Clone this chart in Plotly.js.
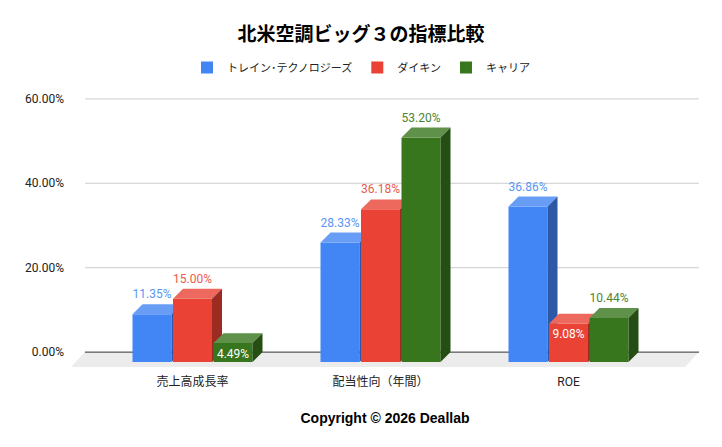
<!DOCTYPE html>
<html>
<head>
<meta charset="utf-8">
<script src="https://cdn.plot.ly/plotly-3.0.1.min.js"></script>
<style>
  html, body { margin: 0; padding: 0; background: #fff; }
  #chart { width: 722px; height: 447px; }
</style>
</head>
<body>
<div id="chart"></div>
<script>
// data
var categories = ["売上高成長率", "配当性向（年間）", "ROE"];
var seriesNames = ["トレイン･テクノロジーズ", "ダイキン", "キャリア"];
var trane = [11.35, 28.33, 36.86];
var daikin = [15.0, 36.18, 9.08];
var carrier = [4.49, 53.2, 10.44];
var yTicks = [0, 20, 40, 60];

var seriesValues = [trane, daikin, carrier];

// colours: front, top, side, label
var colors = [
  { front: "#4285f4", top: "#689df6", side: "#2c58a6", label: "#5b95f5" },
  { front: "#ea4335", top: "#ee695d", side: "#9c2c22", label: "#ee5a4d" },
  { front: "#38761d", top: "#60914a", side: "#244e13", label: "#4a8530" },
];

// geometry (px) of the fake 3d look
var plotL = 71, plotR = 699, plotT = 80, plotB = 368;
var zeroPx = 352, pxPerPct = 4.25;
var catPx = 188, cat0BackPx = 202.5;
var depthX = 10, depthY = 10; // bar depth
var floorDepthX = 14, floorDepthY = 15;
var backLeftPx = 85;
var barPx = 39, slotPx = 40.5;

var yRange = [-(plotB - zeroPx) / pxPerPct, (zeroPx - plotT) / pxPerPct];
var xRange = [(plotL - cat0BackPx) / catPx, (plotR - cat0BackPx) / catPx];
var dxD = depthX / catPx, dyD = depthY / pxPerPct;
var bw = barPx / catPx, slot = slotPx / catPx;

function xp(px) {
  return (px - plotL) / (plotR - plotL);
}

var data = [];
var catIdx = categories.map(function (c, k) { return k; });

seriesValues.forEach(function (vals, i) {
  let ya = i === 0 ? "y" : "y" + (i + 1);
  let off = -dxD + (i - 1) * slot - bw / 2;

  // front faces
  data.push({
    type: "bar",
    x: catIdx,
    y: vals,
    base: -dyD,
    width: bw,
    offset: off,
    name: seriesNames[i],
    marker: { color: colors[i].front, line: { width: 0 } },
    yaxis: ya,
    hoverinfo: "skip",
  });

  // top + side faces
  let tx = [], ty = [], sx = [], sy = [];
  vals.forEach(function (v, k) {
    let xl = k + off, xr = k + off + bw, t = v - dyD;
    tx.push(xl, xr, xr + dxD, xl + dxD, xl, null);
    ty.push(t, t, v, v, t, null);
    sx.push(xr, xr, xr + dxD, xr + dxD, xr, null);
    sy.push(-dyD, t, v, 0, -dyD, null);
  });
  data.push({
    type: "scatter", mode: "none", fill: "toself",
    x: tx, y: ty, fillcolor: colors[i].top,
    showlegend: false, hoverinfo: "skip", yaxis: ya,
  });
  data.push({
    type: "scatter", mode: "none", fill: "toself",
    x: sx, y: sy, fillcolor: colors[i].side,
    showlegend: false, hoverinfo: "skip", yaxis: ya,
  });

  // value labels: inside the bar when the bar to the left is taller
  let lx = [], ly = [], lt = [], lc = [];
  vals.forEach(function (v, k) {
    let inside = i > 0 && seriesValues[i - 1][k] > v;
    lx.push(k + off + bw / 2);
    ly.push(inside ? v - dyD - 11.5 / pxPerPct : v + 9 / pxPerPct);
    lt.push(v.toFixed(2) + "%");
    lc.push(inside ? "#ffffff" : colors[i].label);
  });
  data.push({
    type: "scatter", mode: "text",
    x: lx, y: ly, text: lt,
    textposition: "middle center",
    textfont: { family: "Roboto, Arial, sans-serif", size: 12, color: lc },
    showlegend: false, hoverinfo: "skip", yaxis: ya,
  });
});

// back-plane grid, zero line and floor
var shapes = [
  {
    type: "path", xref: "paper", yref: "y", layer: "below",
    path: "M" + xp(backLeftPx) + ",0 L1,0 L" + xp(plotR - floorDepthX) + "," + (-floorDepthY / pxPerPct) +
      " L0," + (-floorDepthY / pxPerPct) + " Z",
    fillcolor: "#ececec", line: { width: 0 },
  },
];
yTicks.forEach(function (t) {
  shapes.push({
    type: "line", xref: "paper", yref: "y", layer: "below",
    x0: xp(backLeftPx), x1: 1, y0: t, y1: t,
    line: { color: t === 0 ? "#333333" : "#cccccc", width: 1 },
  });
});

var layout = {
  width: 722,
  height: 447,
  margin: { l: plotL, r: 722 - plotR, t: plotT, b: 447 - plotB, pad: 0 },
  paper_bgcolor: "#ffffff",
  plot_bgcolor: "rgba(0,0,0,0)",
  font: { family: "Roboto, 'Noto Sans CJK JP', sans-serif", size: 12, color: "#222222" },
  title: {
    text: "北米空調ビッグ３の指標比較",
    x: 0.5, xanchor: "center",
    y: 1 - 34.5 / 447, yanchor: "middle",
    font: { family: "'Liberation Sans', Arial, 'Noto Sans CJK JP', sans-serif", size: 19, weight: "bold", color: "#000000" },
  },
  showlegend: true,
  legend: {
    orientation: "h",
    xref: "container", yref: "container",
    x: 0.5, xanchor: "center",
    y: 1 - 67.5 / 447, yanchor: "middle",
    font: { family: "Roboto, 'Noto Sans CJK JP', sans-serif", size: 11, color: "#222222" },
    itemclick: false,
  },
  barmode: "overlay",
  xaxis: {
    range: xRange,
    tickvals: catIdx.map(function (k) { return k - dxD; }),
    ticktext: categories,
    showgrid: false, zeroline: false, showline: false, ticks: "",
    ticklabelstandoff: 5,
    tickfont: { size: 12, color: "#222222" },
    title: {
      text: "Copyright © 2026 Deallab",
      standoff: 25,
      font: { family: "'Liberation Sans', Arial, sans-serif", size: 14, weight: "bold", color: "#000000" },
    },
    fixedrange: true,
  },
  yaxis: {
    range: yRange,
    tickvals: yTicks,
    ticktext: yTicks.map(function (t) { return t.toFixed(2) + "%"; }),
    showgrid: false, zeroline: false, showline: false, ticks: "",
    ticklabelstandoff: 6,
    tickfont: { size: 12, color: "#222222" },
    fixedrange: true,
  },
  yaxis2: { overlaying: "y", range: yRange, visible: false, fixedrange: true },
  yaxis3: { overlaying: "y", range: yRange, visible: false, fixedrange: true },
  shapes: shapes,
};

var config = { displayModeBar: false, responsive: false };

Plotly.newPlot("chart", data, layout, config);
</script>
</body>
</html>
